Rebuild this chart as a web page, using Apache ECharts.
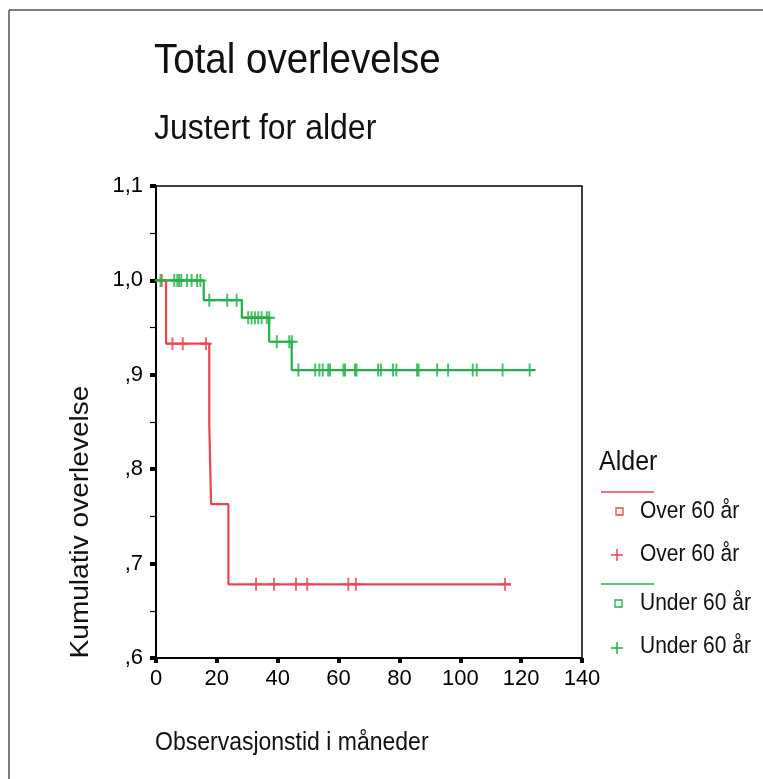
<!DOCTYPE html>
<html>
<head>
<meta charset="utf-8">
<script src="https://cdn.jsdelivr.net/npm/echarts@6/dist/echarts.min.js"></script>
<style>
html,body{margin:0;padding:0;background:#fff;}
#chart{width:763px;height:779px;}
</style>
</head>
<body>
<div id="chart"></div>
<script>
// ---- Data ----
const titleText = 'Total overlevelse';
const subtitleText = 'Justert for alder';
const xAxisName = 'Observasjonstid i måneder';
const yAxisName = 'Kumulativ overlevelse';
const legendTitle = 'Alder';
const groupNames = ['Over 60 år', 'Under 60 år'];

// Kaplan-Meier step points [month, survival]
const overSteps = [[0, 1.0], [3.3, 0.933], [17.5, 0.848], [18.1, 0.763], [23.8, 0.678], [116.7, 0.678]];
const underSteps = [[0, 1.0], [15.7, 0.979], [28.2, 0.9605], [37.2, 0.935], [44.6, 0.905], [124.6, 0.905]];

// Censored observations [month, survival]
const overCensored = [[1.9, 1.0], [5.4, 0.933], [8.8, 0.933], [16.4, 0.933],
  [32.9, 0.678], [38.8, 0.678], [46.0, 0.678], [49.7, 0.678], [63.2, 0.678], [65.7, 0.678], [114.7, 0.678]];
const underCensored = [[1.5, 1.0], [6.0, 1.0], [7.0, 1.0], [7.6, 1.0], [8.3, 1.0], [10.2, 1.0], [11.7, 1.0], [13.5, 1.0], [14.6, 1.0],
  [17.5, 0.979], [23.4, 0.979], [26.5, 0.979],
  [30.3, 0.9605], [31.4, 0.9605], [32.5, 0.9605], [33.6, 0.9605], [34.7, 0.9605], [36.4, 0.9605], [37.2, 0.9605],
  [39.7, 0.935], [43.8, 0.935], [44.6, 0.935],
  [46.8, 0.905], [52.3, 0.905], [53.7, 0.905], [54.8, 0.905], [56.6, 0.905], [57.2, 0.905], [61.6, 0.905], [62.1, 0.905],
  [65.4, 0.905], [65.9, 0.905], [73.0, 0.905], [73.9, 0.905], [77.9, 0.905], [79.0, 0.905], [85.8, 0.905], [86.3, 0.905],
  [92.4, 0.905], [96.0, 0.905], [104.1, 0.905], [105.4, 0.905], [113.9, 0.905], [122.8, 0.905]];

const xMin = 0, xMax = 140, xInterval = 20;
const yMin = 0.6, yMax = 1.1, yInterval = 0.1;

// ---- Styling ----
const RED = '#ee4450';
const GREEN = '#22b04a';
const FONT = "'Liberation Sans', Arial, sans-serif";
const plusPath = 'path://M5,0H7V13H5Z M0,5.5H12V7.5H0Z';
const SY = 1.1; // slight vertical stretch of the scanned text

const chart = echarts.init(document.getElementById('chart'), null, {renderer: 'canvas'});

function yFmt(v) {
  let s = Number(v).toFixed(1).replace('.', ',');
  if (s.startsWith('0,')) s = s.substring(1);
  return s;
}

const G = {left: 156, top: 186, width: 426, height: 472};

function txt(x, y, text, size, extra) {
  return Object.assign({type: 'text', x: x, y: y, scaleY: SY,
    style: {text: text, fill: '#111', font: size + 'px ' + FONT, verticalAlign: 'middle', align: 'left'}}, extra || {});
}

const option = {
  backgroundColor: '#ffffff',
  animation: false,
  grid: {left: G.left, top: G.top, width: G.width, height: G.height, containLabel: false,
    show: true, borderColor: '#000', borderWidth: 1.5, backgroundColor: 'transparent'},
  xAxis: {
    type: 'value', min: xMin, max: xMax, interval: xInterval,
    axisLine: {show: true, onZero: false, lineStyle: {color: '#000', width: 2}},
    axisTick: {show: true, inside: false, length: 5, lineStyle: {color: '#000', width: 4}},
    axisLabel: {color: '#000', fontSize: 22, fontFamily: FONT, margin: 10},
    splitLine: {show: false}
  },
  yAxis: {
    type: 'value', min: yMin, max: yMax, interval: yInterval,
    axisLine: {show: true, onZero: false, lineStyle: {color: '#000', width: 2}},
    axisTick: {show: true, inside: false, length: 6, lineStyle: {color: '#000', width: 4}},
    minorTick: {show: true, splitNumber: 2, length: 6, lineStyle: {color: '#000', width: 1.2}},
    axisLabel: {color: '#000', fontSize: 22, fontFamily: FONT, margin: 13, formatter: yFmt},
    splitLine: {show: false},
    minorSplitLine: {show: false}
  },
  series: [
    {name: groupNames[0], type: 'line', step: 'end', data: overSteps, showSymbol: false, symbol: 'none',
      lineStyle: {color: RED, width: 2.2}, z: 2},
    {name: groupNames[0] + ' censored', type: 'scatter', data: overCensored, symbol: plusPath, symbolSize: [12, 13],
      symbolKeepAspect: false, itemStyle: {color: RED}, z: 3},
    {name: groupNames[1], type: 'line', step: 'end', data: underSteps, showSymbol: false, symbol: 'none',
      lineStyle: {color: GREEN, width: 2.2}, z: 4},
    {name: groupNames[1] + ' censored', type: 'scatter', data: underCensored, symbol: plusPath, symbolSize: [12, 13],
      symbolKeepAspect: false, itemStyle: {color: GREEN}, z: 5}
  ],
  graphic: [
    // outer frame (left & top)
    {type: 'line', shape: {x1: 9, y1: 10, x2: 9, y2: 779}, style: {stroke: '#555', lineWidth: 1.5}},
    {type: 'line', shape: {x1: 9, y1: 10, x2: 763, y2: 10}, style: {stroke: '#555', lineWidth: 1.5}},
    // titles
    txt(154, 61, titleText, 38.5),
    txt(154, 129, subtitleText, 32),
    // axis names
    txt(155, 743, xAxisName, 23),
    {type: 'text', x: 81, y: 522, rotation: Math.PI / 2, scaleX: SY,
      style: {text: yAxisName, fill: '#111', font: '25.5px ' + FONT, verticalAlign: 'middle', align: 'center'}},
    // legend
    txt(599, 462, legendTitle, 25),
    {type: 'line', shape: {x1: 601, y1: 492, x2: 654, y2: 492}, style: {stroke: RED, lineWidth: 1.5}},
    {type: 'rect', shape: {x: 616, y: 508, width: 7, height: 7}, style: {fill: 'none', stroke: RED, lineWidth: 1.3}},
    txt(640, 512, groupNames[0], 21),
    {type: 'line', shape: {x1: 611, y1: 555, x2: 623, y2: 555}, style: {stroke: RED, lineWidth: 1.5}},
    {type: 'line', shape: {x1: 617, y1: 549, x2: 617, y2: 561}, style: {stroke: RED, lineWidth: 1.5}},
    txt(640, 555, groupNames[0], 21),
    {type: 'line', shape: {x1: 601, y1: 584, x2: 654, y2: 584}, style: {stroke: GREEN, lineWidth: 1.5}},
    {type: 'rect', shape: {x: 615, y: 600, width: 7, height: 7}, style: {fill: 'none', stroke: GREEN, lineWidth: 1.3}},
    txt(640, 604, groupNames[1], 21),
    {type: 'line', shape: {x1: 611, y1: 648, x2: 623, y2: 648}, style: {stroke: GREEN, lineWidth: 1.5}},
    {type: 'line', shape: {x1: 617, y1: 642, x2: 617, y2: 654}, style: {stroke: GREEN, lineWidth: 1.5}},
    txt(640, 647, groupNames[1], 21)
  ]
};
chart.setOption(option);
</script>
</body>
</html>
